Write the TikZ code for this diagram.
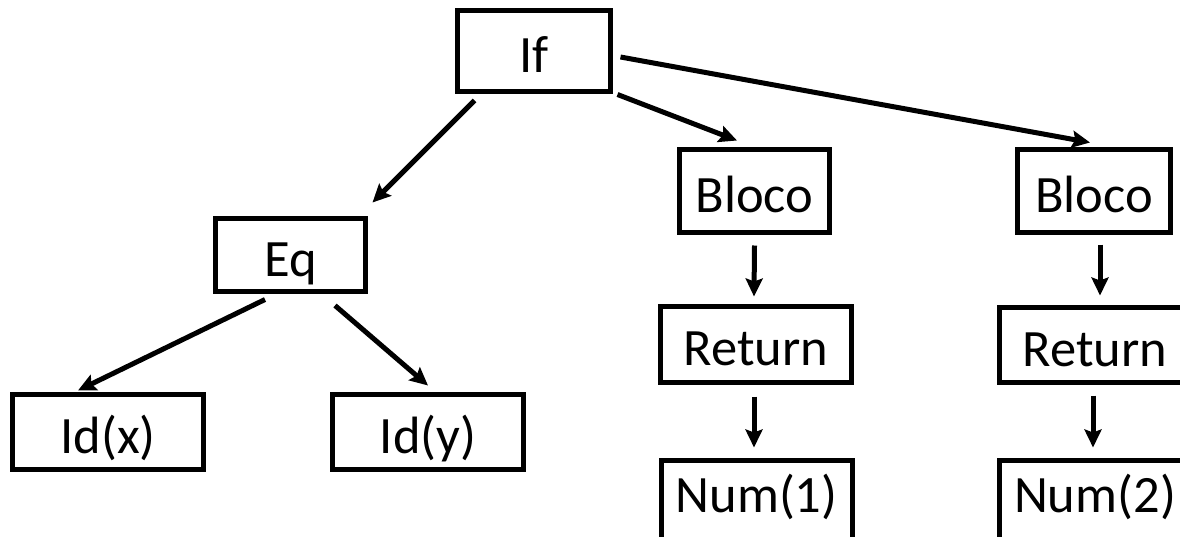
\documentclass[tikz,border=0pt]{standalone}
\usepackage{fontspec}
\setmainfont{Carlito}
\usetikzlibrary{arrows.meta,calc}
\begin{document}
\begin{tikzpicture}[x=1pt,y=-1pt,
  box/.style={draw=black,line width=5pt,inner sep=0pt,text height=44pt,text depth=2pt,font=\fontsize{52.5}{60}\selectfont},
  numbox/.style={box,minimum width=191pt,minimum height=85pt,text depth=25pt},
  arr/.style={line width=5pt,-{Stealth[length=18pt,width=17pt,inset=3pt]}}]
\useasboundingbox (0,0) rectangle (1180,536);
\begin{scope}
\clip (0,0) rectangle (1180,536);
\node[box,minimum width=153pt,minimum height=81pt] (If) at (534,51) {If};
\node[box,minimum width=150pt,minimum height=73pt] (Eq) at (290.5,255) {Eq};
\node[box,minimum width=191pt,minimum height=75pt] (Idx) at (108,432) {Id(x)};
\node[box,minimum width=191pt,minimum height=75pt] (Idy) at (428,432) {Id(y)};
\node[box,minimum width=150pt,minimum height=83pt] (B1) at (754.5,191) {Bloco};
\node[box,minimum width=191pt,minimum height=76pt] (R1) at (756,344.5) {Return};
\node[numbox] (N1) at (756.5,503) {Num(1)};
\node[box,minimum width=153pt,minimum height=83pt] (B2) at (1094,191) {Bloco};
\node[box,minimum width=191pt,minimum height=75pt] (R2) at (1095,345) {Return};
\node[numbox] (N2) at (1095,503) {Num(2)};
\end{scope}
\draw[arr] ($(If.south west)+(19.5,6.5)$) -- ($(Eq.north east)+(4.5,-13.5)$);
\draw[arr] ($(If.south east)+(4.5,0.5)$) -- ($(B1.north)+(-17.5,-6.5)$);
\draw[arr] ($(If.east)+(7.5,6)$) -- ($(B2.north)+(-4,-4.5)$);
\draw[arr] ($(Eq.south)+(-25.5,5.5)$) -- ($(Idx.north)+(-30,-1.5)$);
\draw[arr] ($(Eq.south)+(44.5,11.5)$) -- ($(Idy.north)+(0,-6.5)$);
\draw[arr] ($(B1.south)+(0,10.5)$) -- ($(R1.north)+(-2,-7.5)$);
\draw[arr] ($(R1.south)+(-2,11.5)$) -- ($(N1.north)+(-2.5,-10.5)$);
\draw[arr] ($(B2.south)+(6,9.5)$) -- ($(R2.north)+(5,-9.5)$);
\draw[arr] ($(R2.south)+(-2,10.5)$) -- ($(N2.north)+(-2,-10.5)$);
\end{tikzpicture}
\end{document}
